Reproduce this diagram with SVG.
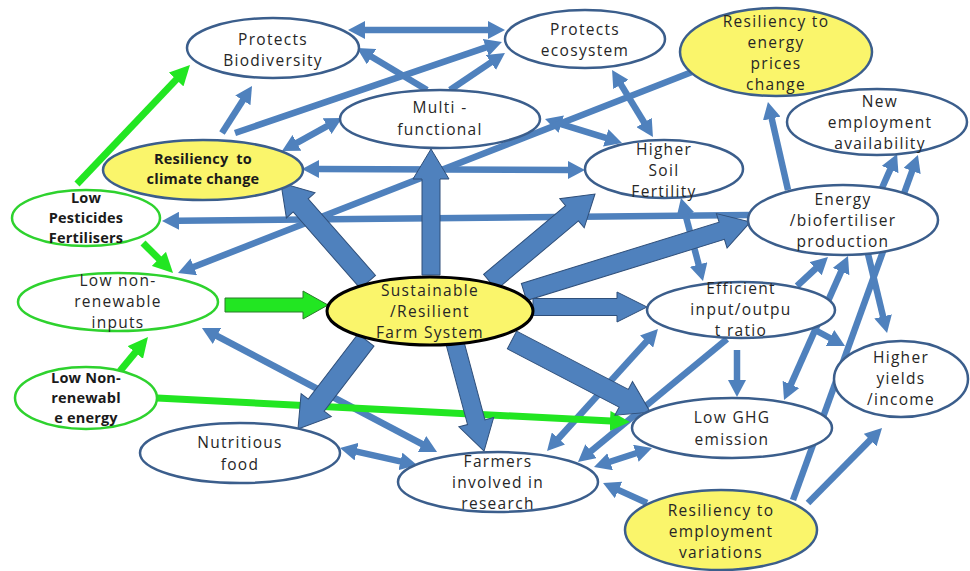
<svg xmlns="http://www.w3.org/2000/svg" width="970" height="571" viewBox="0 0 970 571">
<defs>
<marker id="ah" viewBox="0 0 17 18" refX="1" refY="9" markerWidth="17" markerHeight="18" markerUnits="userSpaceOnUse" orient="auto-start-reverse"><path d="M0,0 L17,9 L0,18 z" fill="#4F81BD"/></marker>
<marker id="gh" viewBox="0 0 20 20" refX="1" refY="10" markerWidth="20" markerHeight="20" markerUnits="userSpaceOnUse" orient="auto-start-reverse"><path d="M0,0 L20,10 L0,20 z" fill="#22E622"/></marker>
<style>
.l{fill:none;stroke:#4F81BD;stroke-width:6.5;marker-end:url(#ah)}
.d{marker-start:url(#ah)}
.gl{fill:none;stroke:#22E622;stroke-width:7;marker-end:url(#gh)}
.blk{fill:#4F81BD;stroke:#2F4F7A;stroke-width:1}
.node ellipse{fill:#fff;stroke:#3B5E8C;stroke-width:2.5}
.node.y ellipse{fill:#FAF56B}
.node.g ellipse{stroke:#2ED22E;stroke-width:2.5}
.node.c ellipse{fill:#FAF56B;stroke:#000;stroke-width:3}
text{font-family:"Open Sans","Liberation Sans",sans-serif;font-size:15.5px;letter-spacing:1.3px;text-anchor:middle;fill:#262626}
.b text{font-weight:700;font-size:14.5px;letter-spacing:0.2px;fill:#1a1a1a}
</style>
</defs>
<g id="connectors">
<path class="l d" d="M364,30 L489,30"/>
<path class="l" d="M427,90 L370.7,56.2"/>
<path class="l" d="M450,90 L491.7,61.9"/>
<path class="l" d="M235,133 L486.8,47.2"/>
<path class="l" d="M222,133 L243.4,99.5"/>
<path class="l d" d="M328,125.7 L296,143.3"/>
<path class="l d" d="M318,169 L569,170"/>
<path class="l d" d="M560.3,123.8 L606.7,138.2"/>
<path class="l" d="M692,72 L192.9,267.2"/>
<path class="l" d="M750,215 L178,220.8"/>
<path class="l d" d="M620.4,83.6 L644.6,123.3"/>
<path class="l" d="M788,190 L771.5,117.6"/>
<path class="l" d="M882,188 L890.6,168.6"/>
<path class="l" d="M793,500 L912.5,170"/>
<path class="l d" d="M841.5,270.6 L790.5,385.4"/>
<path class="l" d="M868,254 L883.3,317.4"/>
<path class="l" d="M797,286 L816.3,268"/>
<path class="l" d="M815,330 L830.9,338.5"/>
<path class="l" d="M737,350 L737,381"/>
<path class="l d" d="M685.1,213.5 L698.9,265.5"/>
<path class="l" d="M808,503 L870.8,439.4"/>
<path class="l d" d="M636.8,453 L609.2,462"/>
<path class="l" d="M647,503 L617.6,489.6"/>
<path class="l d" d="M557.8,439.2 L647.2,340.8"/>
<path class="l" d="M727,339 L590.3,451.8"/>
<path class="l d" d="M216.1,335.5 L422.9,444.5"/>
<path class="l d" d="M355.6,451.4 L401.4,461.6"/>
<path class="gl" d="M77,184 L176.9,78.8"/>
<path class="gl" d="M143,243 L159.6,259.6"/>
<path class="gl" d="M120,371 L135.9,351.7"/>
<path class="gl" d="M157,398 L611,421"/>
<polygon points="225,298 303,298 303,291 328,305 303,319 303,312 225,312" fill="#22E622" stroke="#2A7A2A" stroke-width="1"/>
<polygon class="blk" transform="translate(368,282) rotate(-131.3)" points="0,-10 102,-10 102,-19 132,0 102,19 102,10 0,10"/>
<polygon class="blk" transform="translate(431,275) rotate(-90)" points="0,-9 96,-9 96,-18 126,0 96,18 96,9 0,9"/>
<polygon class="blk" transform="translate(490,282) rotate(-39.97)" points="0,-10 107,-10 107,-19 137,0 107,19 107,10 0,10"/>
<polygon class="blk" transform="translate(524,292) rotate(-17.2)" points="0,-9 207,-9 207,-18 237,0 207,18 207,9 0,9"/>
<polygon class="blk" transform="translate(533,307) rotate(0)" points="0,-8.5 84,-8.5 84,-15 114,0 84,15 84,8.5 0,8.5"/>
<polygon class="blk" transform="translate(512,340) rotate(27.55)" points="0,-10 126,-10 126,-19 156,0 126,19 126,10 0,10"/>
<polygon class="blk" transform="translate(455,343) rotate(74.97)" points="0,-9 82,-9 82,-18 112,0 82,18 82,9 0,9"/>
<polygon class="blk" transform="translate(366,340) rotate(127.4)" points="0,-10 82,-10 82,-19 112,0 82,19 82,10 0,10"/>
</g>
<g id="biodiversity" class="node"><ellipse cx="273" cy="48" rx="86" ry="30"/><text x="273" y="45">Protects</text><text x="273" y="66">Biodiversity</text></g>
<g id="ecosystem" class="node"><ellipse cx="585" cy="39" rx="80" ry="29"/><text x="585" y="35">Protects</text><text x="585" y="56">ecosystem</text></g>
<g id="energy-prices" class="node y"><ellipse cx="776" cy="52" rx="96" ry="44"/><text x="776" y="27">Resiliency to</text><text x="776" y="48">energy</text><text x="776" y="69">prices</text><text x="776" y="90">change</text></g>
<g id="new-employment" class="node"><ellipse cx="877" cy="122" rx="90" ry="33"/><text x="880" y="107">New</text><text x="880" y="128">employment</text><text x="880" y="149">availability</text></g>
<g id="multi-functional" class="node"><ellipse cx="440" cy="119" rx="100" ry="29"/><text x="440" y="113">Multi -</text><text x="440" y="135">functional</text></g>
<g id="climate" class="node y b"><ellipse cx="203" cy="170" rx="100" ry="30"/><text x="203" y="164" xml:space="preserve">Resiliency  to</text><text x="203" y="184">climate change</text></g>
<g id="soil" class="node"><ellipse cx="664" cy="169" rx="79" ry="29"/><text x="664" y="155">Higher</text><text x="664" y="176">Soil</text><text x="664" y="197">Fertility</text></g>
<g id="pesticides" class="node g b"><ellipse cx="86" cy="218" rx="74" ry="28"/><text x="86" y="203">Low</text><text x="86" y="223">Pesticides</text><text x="86" y="243">Fertilisers</text></g>
<g id="energy" class="node"><ellipse cx="843" cy="220" rx="95" ry="35"/><text x="843" y="205">Energy</text><text x="843" y="226">/biofertiliser</text><text x="843" y="247">production</text></g>
<g id="inputs" class="node g"><ellipse cx="118" cy="302" rx="100" ry="29"/><text x="118" y="286">Low non-</text><text x="118" y="307">renewable</text><text x="118" y="328">inputs</text></g>
<g id="farm-system" class="node c"><ellipse cx="430" cy="311" rx="103" ry="34"/><text x="430" y="296">Sustainable</text><text x="430" y="317">/Resilient</text><text x="430" y="338">Farm System</text></g>
<g id="efficient" class="node"><ellipse cx="741" cy="310" rx="94" ry="28"/><text x="741" y="294">Efficient</text><text x="741" y="315">input/outpu</text><text x="741" y="336">t ratio</text></g>
<g id="yields" class="node"><ellipse cx="901" cy="379" rx="67" ry="38"/><text x="901" y="363">Higher</text><text x="901" y="384">yields</text><text x="901" y="405">/income</text></g>
<g id="nr-energy" class="node g b"><ellipse cx="86" cy="398" rx="71" ry="31"/><text x="86" y="383">Low Non-</text><text x="86" y="403">renewabl</text><text x="86" y="423">e energy</text></g>
<g id="ghg" class="node"><ellipse cx="732" cy="428" rx="100" ry="30"/><text x="732" y="423">Low GHG</text><text x="732" y="445">emission</text></g>
<g id="nutritious" class="node"><ellipse cx="240" cy="453" rx="100" ry="30"/><text x="240" y="448">Nutritious</text><text x="240" y="470">food</text></g>
<g id="farmers" class="node"><ellipse cx="498" cy="482" rx="100" ry="30"/><text x="498" y="467">Farmers</text><text x="498" y="488">involved in</text><text x="498" y="509">research</text></g>
<g id="employment-var" class="node y"><ellipse cx="721" cy="530" rx="96" ry="40"/><text x="721" y="516">Resiliency to</text><text x="721" y="537">employment</text><text x="721" y="558">variations</text></g>
</svg>
